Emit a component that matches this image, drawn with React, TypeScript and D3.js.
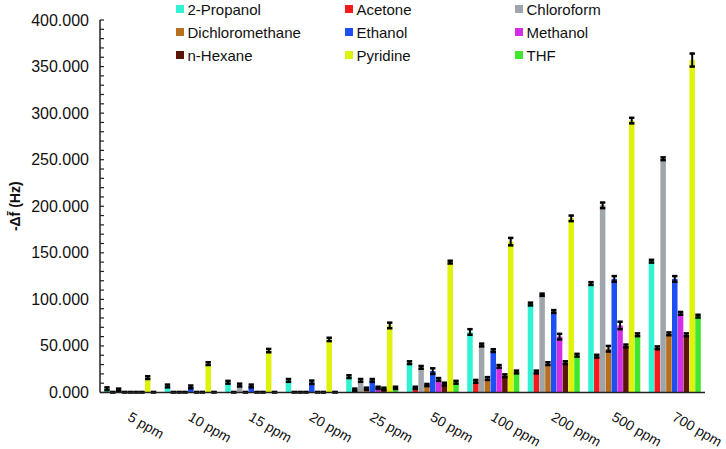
import * as d3 from "d3";

const categories = ["5 ppm", "10 ppm", "15 ppm", "20 ppm", "25 ppm", "50 ppm", "100 ppm", "200 ppm", "500 ppm", "700 ppm"];
const solvents = ["2-Propanol", "Acetone", "Chloroform", "Dichloromethane", "Ethanol", "Methanol", "n-Hexane", "Pyridine", "THF"];
const colors = ["#31f3d3", "#f51a1e", "#9fa6ab", "#b86f1d", "#1d4ff2", "#d22ee6", "#5c1409", "#dff20c", "#3fe62f"];

// mean response per solvent, one value per concentration
const propanol = [4, 7, 11, 13, 17, 32, 65, 95, 117, 141];
const acetone = [0.3, 0.3, 0.3, 0.3, 3, 5, 12, 22, 39, 48];
const chloroform = [3, 0.3, 8, 0.3, 13, 27, 51, 105, 201, 251];
const dichloromethane = [0.3, 0.3, 0.3, 0.3, 4, 8, 15, 31, 47, 63];
const ethanol = [0.3, 6, 7, 11, 13, 23, 45, 87, 122, 122];
const methanol = [0.3, 0.3, 0.3, 0.3, 5, 14, 28, 60, 72, 85];
const hexane = [0.3, 0.3, 0.3, 0.3, 4, 9, 18, 32, 50, 62];
const pyridine = [16, 31, 45, 57, 72, 140, 162, 187, 292, 357];
const thf = [0.3, 0.3, 0.3, 0.3, 5, 11, 22, 40, 62, 82];

// standard deviations
const propanolErr = [1.5, 1.5, 1.5, 1.5, 1.5, 1.5, 3, 1.5, 1.5, 1.5];
const acetoneErr = [0.3, 0.3, 0.3, 0.3, 1.2, 1.2, 1.5, 1.5, 1.5, 1.5];
const chloroformErr = [1.2, 0.3, 1.5, 0.3, 1.5, 1.5, 1.5, 1.2, 3, 1.5];
const dichloromethaneErr = [0.3, 0.3, 0.3, 0.3, 1.2, 1.2, 1.5, 1.5, 3, 1.5];
const ethanolErr = [0.3, 1.5, 1.5, 1.8, 1.5, 3, 1.5, 1.5, 3, 3];
const methanolErr = [0.3, 0.3, 0.3, 0.3, 1.2, 1.5, 1.5, 3, 4, 1.5];
const hexaneErr = [0.3, 0.3, 0.3, 0.3, 1.2, 1.5, 1.5, 1.5, 1.5, 1.5];
const pyridineErr = [1.5, 1.5, 1.8, 1.8, 3, 1.5, 4, 3, 3, 7];
const thfErr = [0.3, 0.3, 0.3, 0.3, 1.2, 1.5, 1.5, 1.5, 1.5, 1.5];

const yTicks = [0, 50, 100, 150, 200, 250, 300, 350, 400];

const values = [propanol, acetone, chloroform, dichloromethane, ethanol, methanol, hexane, pyridine, thf];
const errors = [propanolErr, acetoneErr, chloroformErr, dichloromethaneErr, ethanolErr, methanolErr, hexaneErr, pyridineErr, thfErr];

export default function App() {
  const width = 726,
    height = 449;
  const left = 100,
    right = 705,
    top = 20,
    bottom = 392.5;

  const x0 = d3.scaleBand().domain(categories).range([left, right]).paddingInner(0.13).paddingOuter(0.065);
  const x1 = d3.scaleBand().domain(solvents).range([0, x0.bandwidth()]).padding(0.05);
  const y = d3.scaleLinear().domain([0, 400]).range([bottom, top]);
  const minor = d3.range(0, 401, 10);

  return (
    <svg
      width={width}
      height={height}
      style={{ position: "absolute", left: 0, top: 0, background: "#fff" }}
      fontFamily="'Liberation Sans', Arial, sans-serif"
    >
      <rect width={width} height={height} fill="#fff" />

      {/* legend */}
      {solvents.map((s, i) => {
        const col = i % 3,
          row = Math.floor(i / 3);
        const lx = [176, 345, 515][col];
        const ly = 9 + row * 23;
        return (
          <g key={s}>
            <rect x={lx} y={ly - 4} width={8} height={8} fill={colors[i]} />
            <text x={lx + 11.5} y={ly} dominantBaseline="central" fontSize={15} fill="#111">
              {s}
            </text>
          </g>
        );
      })}

      {/* bars */}
      {categories.map((c, gi) => (
        <g key={c} transform={`translate(${x0(c)},0)`}>
          {solvents.map((s, si) => {
            const v = values[si][gi];
            const e = errors[si][gi];
            const bx = x1(s);
            const bw = x1.bandwidth();
            const cx = bx + bw / 2;
            const hi = y(v + e),
              lo = y(Math.max(0, v - e));
            return (
              <g key={s}>
                <rect x={bx} y={y(v)} width={bw} height={bottom - y(v)} fill={colors[si]} />
                <line x1={cx} x2={cx} y1={hi} y2={lo} stroke="#000" strokeWidth={2} />
                <line x1={cx - 2.7} x2={cx + 2.7} y1={hi} y2={hi} stroke="#000" strokeWidth={2.5} />
                <line x1={cx - 2.7} x2={cx + 2.7} y1={lo} y2={lo} stroke="#000" strokeWidth={2.5} />
              </g>
            );
          })}
        </g>
      ))}

      {/* y axis */}
      <line x1={left} x2={left} y1={top} y2={bottom} stroke="#222" strokeWidth={1.5} />
      {minor.map((t) => (
        <line key={t} x1={left} x2={left + 4} y1={y(t)} y2={y(t)} stroke="#222" strokeWidth={1.2} />
      ))}
      {yTicks.map((t) => (
        <text key={t} x={89} y={y(t)} textAnchor="end" dominantBaseline="central" fontSize={16} fill="#111">
          {d3.format(".3f")(t)}
        </text>
      ))}
      <text
        transform={`translate(15,${(top + bottom) / 2}) rotate(-90)`}
        textAnchor="middle"
        dominantBaseline="central"
        fontSize={14}
        fontWeight="bold"
        fill="#111"
      >
        -Δf̄ (Hz)
      </text>

      {/* x axis */}
      <line x1={left} x2={right} y1={bottom} y2={bottom} stroke="#222" strokeWidth={1.5} />
      {categories.map((c) => (
        <text
          key={c}
          transform={`translate(${x0(c) + x0.bandwidth() / 2 - 1},${bottom + 23}) rotate(30)`}
          fontSize={14}
          dominantBaseline="central"
          fill="#111"
        >
          {c}
        </text>
      ))}
    </svg>
  );
}
